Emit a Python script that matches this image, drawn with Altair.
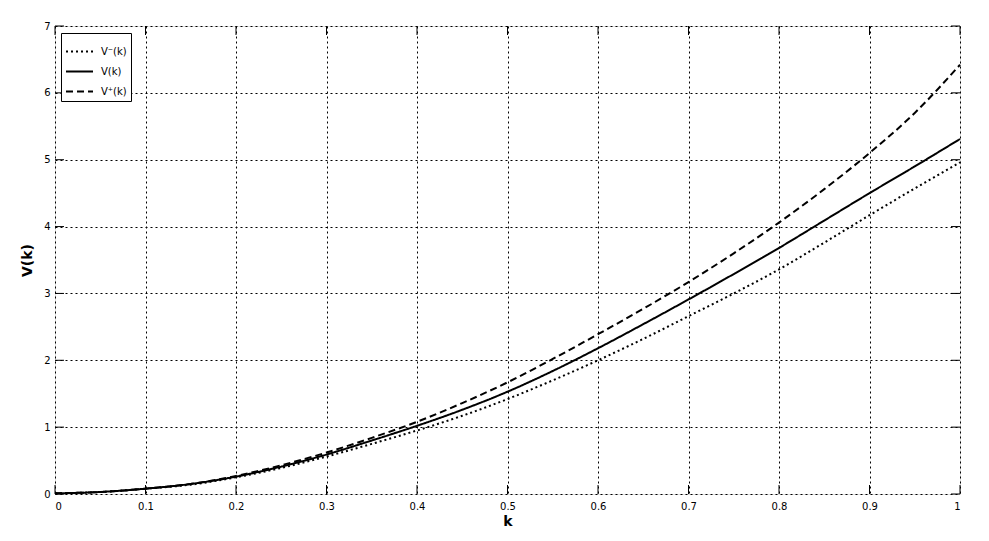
import altair as alt
import pandas as pd

k = [0, 0.05, 0.1, 0.15, 0.2, 0.25, 0.3, 0.35, 0.4, 0.45, 0.5, 0.55, 0.6, 0.65,
     0.7, 0.75, 0.8, 0.85, 0.9, 0.95, 1.0]
v_minus = [0.01, 0.03, 0.08, 0.14, 0.25, 0.39, 0.56, 0.75, 0.95, 1.17, 1.42, 1.70,
           2.00, 2.32, 2.66, 3.00, 3.36, 3.76, 4.17, 4.57, 4.96]
v_mid = [0.01, 0.03, 0.08, 0.15, 0.26, 0.41, 0.59, 0.80, 1.02, 1.26, 1.53, 1.84,
         2.18, 2.54, 2.91, 3.29, 3.68, 4.09, 4.50, 4.90, 5.31]
v_plus = [0.01, 0.03, 0.08, 0.15, 0.27, 0.43, 0.62, 0.84, 1.08, 1.36, 1.67, 2.02,
          2.39, 2.77, 3.17, 3.60, 4.06, 4.56, 5.10, 5.70, 6.42]
series_names = ["V\u207b(k)", "V(k)", "V\u207a(k)"]
x_ticks = [0, 0.1, 0.2, 0.3, 0.4, 0.5, 0.6, 0.7, 0.8, 0.9, 1.0]
y_ticks = [0, 1, 2, 3, 4, 5, 6, 7]

rows = []
for name, vals in zip(series_names, [v_minus, v_mid, v_plus]):
    for xv, yv in zip(k, vals):
        rows.append({"k": xv, "V": yv, "series": name})
df = pd.DataFrame(rows)
xt = pd.DataFrame({"t": x_ticks})
yt = pd.DataFrame({"t": y_ticks})

W, H = 905, 468
TL = 9
font = "DejaVu Sans"

xs = alt.Scale(domain=[0, 1], nice=False, zero=False)
ys = alt.Scale(domain=[0, 7], nice=False)

grid_kw = dict(grid=True, gridColor="black", gridDash=[2, 3], gridOpacity=1,
               gridWidth=1, domain=False, tickSize=0, labelColor="black",
               labelFont=font, labelFontSize=10, titleColor="black",
               titleFont=font, titleFontSize=14, titleFontWeight="bold")

lines = alt.Chart(df).mark_line(color="black", strokeWidth=2, interpolate="monotone").encode(
    x=alt.X("k:Q", scale=xs,
            axis=alt.Axis(values=x_ticks, format=".1~f", title="k",
                          labelPadding=7, titlePadding=3, **grid_kw)),
    y=alt.Y("V:Q", scale=ys,
            axis=alt.Axis(values=y_ticks, format="d", title="V(k)",
                          labelPadding=5, titlePadding=9, **grid_kw)),
    strokeDash=alt.StrokeDash(
        "series:N",
        scale=alt.Scale(domain=series_names, range=[[2, 3], [1, 0], [7, 4]]),
        sort=series_names,
        legend=alt.Legend(title=None, orient="none", legendX=6, legendY=7,
                          strokeColor="black", fillColor="white", padding=4,
                          symbolType="stroke", symbolStrokeColor="black",
                          symbolStrokeWidth=2, symbolSize=729, labelFontSize=10,
                          labelFont=font, labelColor="black",
                          rowPadding=-10, labelOffset=7),
    ),
    detail="series:N",
)

bottom_ticks = alt.Chart(xt).mark_rule(color="black").encode(
    x=alt.X("t:Q", scale=xs), y=alt.value(H), y2=alt.value(H - TL))
top_ticks = alt.Chart(xt).mark_rule(color="black").encode(
    x=alt.X("t:Q", scale=xs), y=alt.value(0), y2=alt.value(TL))
left_ticks = alt.Chart(yt).mark_rule(color="black").encode(
    y=alt.Y("t:Q", scale=ys), x=alt.value(0), x2=alt.value(TL))
right_ticks = alt.Chart(yt).mark_rule(color="black").encode(
    y=alt.Y("t:Q", scale=ys), x=alt.value(W - TL), x2=alt.value(W))

chart = alt.layer(lines, bottom_ticks, top_ticks, left_ticks, right_ticks).properties(
    width=W, height=H,
    autosize=alt.AutoSizeParams(type="none"),
    padding={"left": 47, "top": 18, "right": 20, "bottom": 42},
).configure_view(
    stroke="black", strokeWidth=1.5
).configure(background="white")

chart.save("out.html", embed_options={"renderer": "svg", "actions": False})
